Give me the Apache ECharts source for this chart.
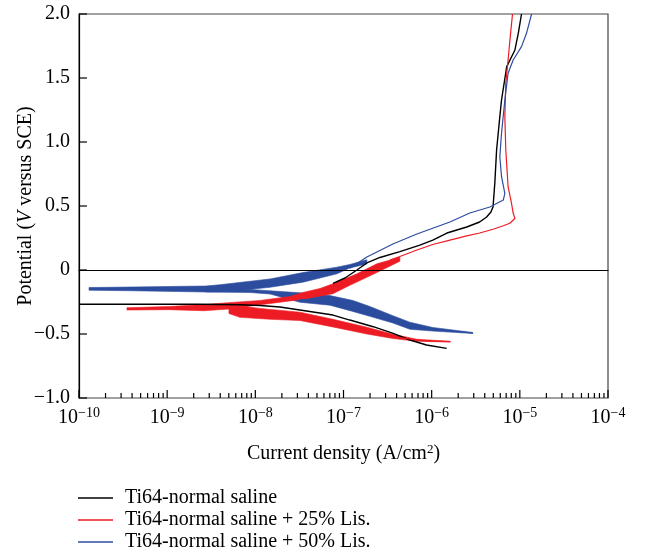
<!DOCTYPE html>
<html>
<head>
<meta charset="utf-8">
<script src="https://cdn.jsdelivr.net/npm/echarts@6/dist/echarts.min.js"></script>
<style>html,body{margin:0;padding:0;background:#fff}#c{width:645px;height:558px}</style>
</head>
<body>
<div id="c"></div>
<script>
// ---- data: [current density (A/cm2), potential (V vs SCE)] ----
const seriesNames = ['Ti64-normal saline', 'Ti64-normal saline + 25% Lis.', 'Ti64-normal saline + 50% Lis.'];
const xTickValues = [1e-10, 1e-9, 1e-8, 1e-7, 1e-6, 1e-5, 1e-4];
const xMinorMultipliers = [2, 3, 4, 5, 6, 7, 8, 9];
const yTickValues = [-1.0, -0.5, 0, 0.5, 1.0, 1.5, 2.0];

const blackCathodic = [[1.48e-6,-0.612],[8.75e-7,-0.586],[5.66e-7,-0.547],[3.66e-7,-0.495],[2.17e-7,-0.443],[1.18e-7,-0.391],[7.6e-8,-0.352],[3.2e-8,-0.3125],[1.9e-8,-0.289],[1.13e-8,-0.277],[6.7e-9,-0.272],[2.35e-9,-0.268],[1e-10,-0.268]];
const blackAnodic = [[7.6e-8,-0.104],[1.04e-7,-0.0625],[1.42e-7,0.0],[1.84e-7,0.055],[2.59e-7,0.098],[4.36e-7,0.143],[7.35e-7,0.195],[1.03e-6,0.234],[1.49e-6,0.289],[2.5e-6,0.336],[3.5e-6,0.375],[4.2e-6,0.414],[4.7e-6,0.453],[4.97e-6,0.495],[5.2e-6,0.677],[5.45e-6,0.9375],[5.93e-6,1.198],[6.2e-6,1.328],[7.1e-6,1.589],[8.8e-6,1.719],[9.6e-6,1.849],[1.045e-5,2.0]];

const redCathodic = [[1.64e-6,-0.560],[9.55e-7,-0.555],[6.8e-7,-0.547],[3.63e-7,-0.521],[1.84e-7,-0.477],[7.6e-8,-0.414],[3.2e-8,-0.359]];
const redAnodic = [[3.36e-7,0.078],[4.36e-7,0.105],[6.8e-7,0.156],[1.03e-6,0.199],[1.61e-6,0.234],[2.5e-6,0.266],[3.5e-6,0.289],[4.97e-6,0.318],[6.4e-6,0.344],[7.7e-6,0.365],[8.8e-6,0.402],[8.4e-6,0.445],[8.05e-6,0.521],[7.36e-6,0.651],[6.93e-6,0.9375],[6.76e-6,1.198],[6.93e-6,1.459],[7.36e-6,1.641],[7.85e-6,1.849],[8.26e-6,2.0]];

const blueCathodic = [[2.93e-6,-0.492],[1.03e-6,-0.464],[5.66e-7,-0.4375],[3.0e-7,-0.385],[1.84e-7,-0.333],[1.18e-7,-0.286],[7.6e-8,-0.26],[3.2e-8,-0.229]];
const blueAnodic = [[1.18e-7,0.013],[1.84e-7,0.102],[3.63e-7,0.203],[6.8e-7,0.281],[1.61e-6,0.375],[2.71e-6,0.445],[4.57e-6,0.492],[6.5e-6,0.547],[6.76e-6,0.599],[6.2e-6,0.729],[5.93e-6,0.885],[6.2e-6,1.068],[6.76e-6,1.328],[7.36e-6,1.537],[8.4e-6,1.641],[1.045e-5,1.745],[1.19e-5,1.849],[1.36e-5,2.0]];

// noisy scatter bands near the corrosion potential (outline of each band)
const blueBandUpper = [[1.30e-10,-0.137],[3.89e-10,-0.133],[2.75e-9,-0.125],[3.97e-9,-0.115],[1.47e-8,-0.070],[3.47e-8,-0.020],[8.42e-8,0.022],[1.18e-7,0.043],[1.84e-7,0.080],[1.84e-7,0.047],[1.18e-7,0.016],[8.42e-8,-0.030],[3.47e-8,-0.095],[1.47e-8,-0.135],[5.02e-9,-0.168],[2.75e-9,-0.172],[3.89e-10,-0.162],[1.30e-10,-0.158]];
const blueBandLower = [[2.75e-9,-0.150],[8.69e-9,-0.152],[3.21e-8,-0.178],[7.01e-8,-0.200],[1.28e-7,-0.238],[1.99e-7,-0.285],[3.63e-7,-0.357],[5.66e-7,-0.408],[1.03e-6,-0.449],[2.93e-6,-0.488],[2.93e-6,-0.496],[1.03e-6,-0.477],[5.66e-7,-0.463],[3.63e-7,-0.414],[1.99e-7,-0.362],[1.28e-7,-0.324],[7.01e-8,-0.275],[3.21e-8,-0.252],[1.47e-8,-0.1875],[8.69e-9,-0.176],[2.75e-9,-0.172]];
const redBandUpper = [[3.50e-10,-0.295],[1.05e-9,-0.285],[2.61e-9,-0.270],[5.02e-9,-0.255],[1.13e-8,-0.238],[2.47e-8,-0.207],[3.47e-8,-0.175],[5.40e-8,-0.145],[7.59e-8,-0.108],[1.42e-7,-0.030],[2.39e-7,0.048],[4.36e-7,0.100],[4.36e-7,0.068],[2.39e-7,-0.020],[1.18e-7,-0.120],[7.59e-8,-0.185],[3.47e-8,-0.228],[1.47e-8,-0.262],[6.68e-9,-0.292],[5.02e-9,-0.305],[2.61e-9,-0.318],[1.05e-9,-0.310],[3.50e-10,-0.3125]];
const redBandLower = [[5.02e-9,-0.270],[1.13e-8,-0.300],[3.21e-8,-0.330],[7.59e-8,-0.385],[1.84e-7,-0.447],[3.63e-7,-0.502],[6.79e-7,-0.541],[1.61e-6,-0.557],[1.61e-6,-0.5625],[6.79e-7,-0.557],[3.63e-7,-0.535],[1.84e-7,-0.500],[7.59e-8,-0.445],[3.21e-8,-0.395],[1.47e-8,-0.385],[6.68e-9,-0.370],[5.02e-9,-0.340]];

const COLORS = ['#000000', '#ed1c24', '#2c4c9e'];
const FONT = 'Liberation Serif';

function lineSeries(name, data, color, width) {
  return { name: name, type: 'line', data: data, showSymbol: false, symbol: 'none',
    lineStyle: { color: color, width: width || 1.2 }, itemStyle: { color: color },
    z: 4, animation: false, silent: true };
}
function bandSeries(name, points, color) {
  return { name: name, type: 'custom', coordinateSystem: 'cartesian2d', silent: true, animation: false,
    data: [points[0]], z: 3, itemStyle: { color: color },
    renderItem: function (params, api) {
      return { type: 'polygon', shape: { points: points.map(function (p) { return api.coord(p); }) },
        style: { fill: color, stroke: color, lineWidth: 0.6 } };
    } };
}
// tick marks (inside), positioned through the axes' scales
const xMajorTicks = xTickValues.map(function (v) { return [v, yTickValues[0], 8, 0]; });
const xMinorTicks = [];
for (let d = 0; d < xTickValues.length - 1; d++) {
  xMinorMultipliers.forEach(function (m) { xMinorTicks.push([xTickValues[d] * m, yTickValues[0], 5, 0]); });
}
const yTicks = yTickValues.map(function (v) { return [xTickValues[0], v, 8, 1]; });
const tickData = xMajorTicks.concat(xMinorTicks, yTicks);

const chart = echarts.init(document.getElementById('c'));
chart.setOption({
  animation: false,
  backgroundColor: '#fff',
  grid: { left: 79, right: 37, top: 14, bottom: 160, show: true, borderColor: '#444', borderWidth: 1.2,
    backgroundColor: 'transparent', containLabel: false, outerBoundsMode: 'none' },
  legend: {
    data: seriesNames, orient: 'vertical', left: 73, top: 482, itemWidth: 35, itemHeight: 1.5, itemGap: 0,
    icon: 'rect', selectedMode: false,
    textStyle: { fontFamily: FONT, fontSize: 20, color: '#000', lineHeight: 22, padding: [0, 0, 0, 7] }
  },
  xAxis: {
    type: 'log', logBase: 10, min: 1e-10, max: 1e-4,
    name: '{t|Current density (A/cm}{s|2}{t|)}', nameLocation: 'middle', nameGap: 45, nameMoveOverlap: false,
    nameTextStyle: { rich: { t: { fontFamily: FONT, fontSize: 20, color: '#000' },
      s: { fontFamily: FONT, fontSize: 13, color: '#000', verticalAlign: 'bottom', padding: [0, 0, 9, 0] } } },
    axisLine: { show: true, lineStyle: { color: '#000', width: 1.2 } },
    axisTick: { show: false },
    axisLabel: { show: true, margin: 8, customValues: xTickValues,
      formatter: function (v) { const e = Math.round(Math.log10(v)); return '{b|10}{s|' + (e < 0 ? '\u2212' : '') + Math.abs(e) + '}'; },
      rich: { b: { fontFamily: FONT, fontSize: 20, color: '#000' },
        s: { fontFamily: FONT, fontSize: 14, color: '#000', verticalAlign: 'bottom', padding: [0, 0, 10, 0] } } },
    splitLine: { show: false }, minorTick: { show: false }
  },
  yAxis: {
    type: 'value', min: -1.0, max: 2.0, interval: 0.5,
    name: '{t|Potential (}{i|V}{t| versus SCE)}', nameLocation: 'middle', nameGap: 43, nameRotate: 90, nameMoveOverlap: false,
    nameTextStyle: { rich: { t: { fontFamily: FONT, fontSize: 20, color: '#000' }, i: { fontFamily: FONT, fontSize: 20, fontStyle: 'italic', color: '#000' } } },
    axisLine: { show: true, lineStyle: { color: '#000', width: 1.2 } },
    axisTick: { show: false },
    axisLabel: { show: true, margin: 9, customValues: yTickValues, fontFamily: FONT, fontSize: 20, color: '#000',
      formatter: function (v) { return v === 0 ? '0' : (v < 0 ? '\u2212' : '') + Math.abs(v).toFixed(1); } },
    splitLine: { show: false }
  },
  series: [
    { type: 'custom', coordinateSystem: 'cartesian2d', silent: true, animation: false, z: 10, clip: false, data: tickData,
      renderItem: function (params, api) {
        const p = api.coord([api.value(0), api.value(1)]);
        const len = api.value(2);
        const shape = api.value(3) === 0
          ? { x: p[0] - 0.6, y: p[1] - len, width: 1.2, height: len }
          : { x: p[0], y: p[1] - 0.6, width: len, height: 1.2 };
        return { type: 'rect', shape: shape, style: { fill: '#000' } };
      } },
    bandSeries(seriesNames[2], blueBandUpper, COLORS[2]),
    bandSeries(seriesNames[2], blueBandLower, COLORS[2]),
    bandSeries(seriesNames[1], redBandUpper, COLORS[1]),
    bandSeries(seriesNames[1], redBandLower, COLORS[1]),
    Object.assign(lineSeries(seriesNames[0], blackCathodic, COLORS[0], 1.4), {
      markLine: { silent: true, symbol: 'none', label: { show: false }, animation: false,
        lineStyle: { color: '#000', width: 1, type: 'solid' }, data: [{ yAxis: 0 }] } }),
    lineSeries(seriesNames[0], blackAnodic, COLORS[0], 1.4),
    lineSeries(seriesNames[1], redCathodic, COLORS[1]),
    lineSeries(seriesNames[1], redAnodic, COLORS[1]),
    lineSeries(seriesNames[2], blueCathodic, COLORS[2]),
    lineSeries(seriesNames[2], blueAnodic, COLORS[2])
  ]
});
</script>
</body>
</html>
